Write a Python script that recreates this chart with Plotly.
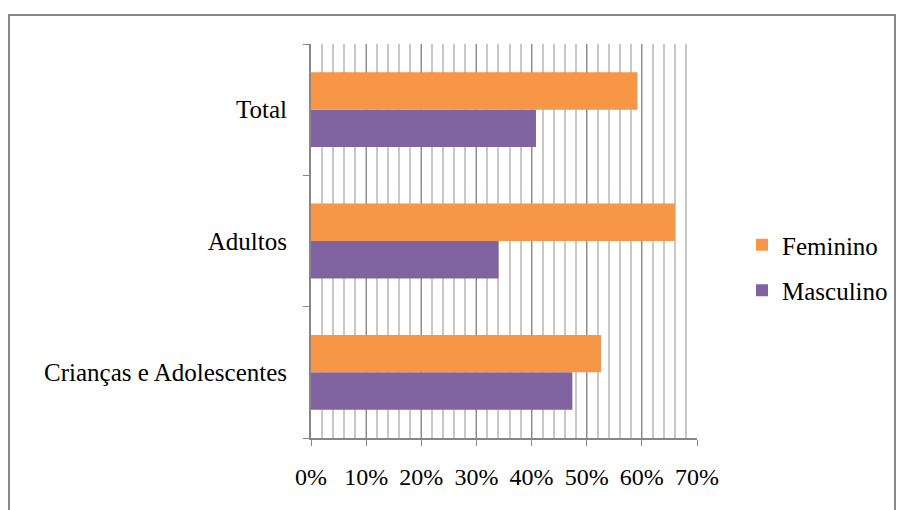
import plotly.graph_objects as go

categories = ["Crianças e Adolescentes", "Adultos", "Total"]
feminino = [52.6, 66.0, 59.2]
masculino = [47.4, 34.0, 40.8]
x_ticks = [0, 10, 20, 30, 40, 50, 60, 70]

W, H = 898, 510
L, R, T, B = 311, 201, 44, 72
pw, ph = W - L - R, H - T - B
FONT = "Liberation Serif, Times New Roman, serif"
fnt = dict(family=FONT, size=25, color="black")
xfnt = dict(family=FONT, size=24, color="black")

fig = go.Figure()
fig.add_trace(go.Bar(y=categories, x=masculino, orientation="h", name="Masculino",
                     marker=dict(color="#8064A2", line=dict(width=0)), legendgroup="m",
                     legendrank=2))
fig.add_trace(go.Bar(y=categories, x=feminino, orientation="h", name="Feminino",
                     marker=dict(color="#F79646", line=dict(width=0)), legendgroup="f",
                     legendrank=1))

def px_x(px):
    return (px - L) / pw

def px_y(py):
    return (H - B - py) / ph

fig.update_layout(
    width=W, height=H,
    margin=dict(l=L, r=R, t=T, b=B, pad=0, autoexpand=False),
    paper_bgcolor="white", plot_bgcolor="white",
    barmode="group", bargap=0.43, bargroupgap=0,
    font=fnt,
    showlegend=True,
    legend=dict(traceorder="grouped", x=px_x(742), y=px_y(222), xanchor="left", yanchor="top",
                tracegroupgap=10, font=fnt, bgcolor="rgba(0,0,0,0)",
                itemwidth=30),
    xaxis=dict(range=[0, 70], tickvals=x_ticks, ticktext=[f"{v}%" for v in x_ticks],
               tickfont=xfnt,
               showgrid=True, gridcolor="#8C8C8C", gridwidth=1,
               minor=dict(dtick=2, tick0=0, showgrid=True, gridcolor="#C8C8C8", gridwidth=1.5),
               showline=True, linecolor="#868686", linewidth=1.5,
               ticks="outside", ticklen=6, tickcolor="#868686",
               ticklabelstandoff=10, zeroline=False, fixedrange=True),
    yaxis=dict(showgrid=False, showline=True, linecolor="#868686", linewidth=2,
               tickfont=fnt,
               ticks="outside", ticklen=6, tickcolor="#868686", tickson="boundaries",
               ticklabelstandoff=17, fixedrange=True),
    shapes=[dict(type="rect", xref="paper", yref="paper",
                 x0=px_x(9), x1=px_x(895), y0=px_y(530), y1=px_y(15),
                 line=dict(color="#878787", width=2), fillcolor="rgba(0,0,0,0)", layer="below")],
)

fig.write_html("out.html")
